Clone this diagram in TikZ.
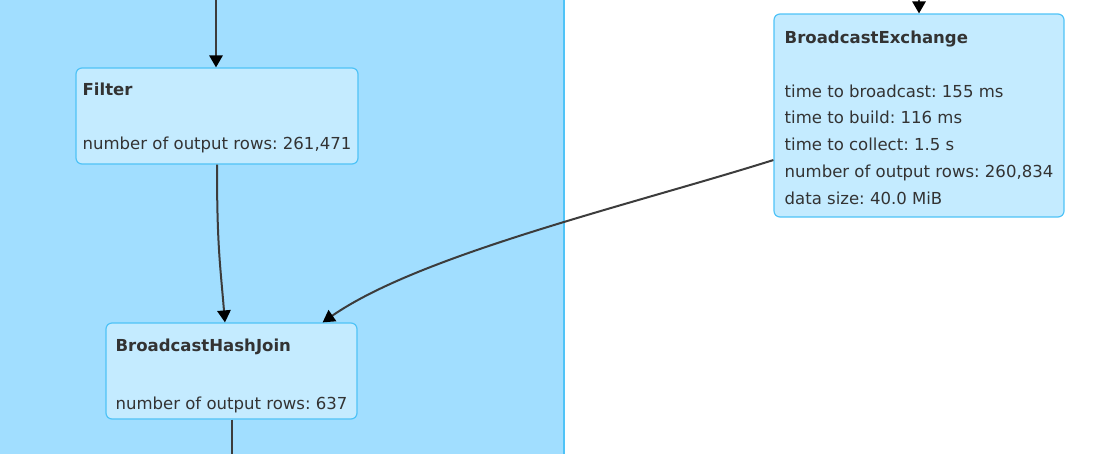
\documentclass[tikz,border=0pt]{standalone}
\usepackage{fontspec}
\setmainfont{DejaVu Sans}
\usetikzlibrary{arrows.meta}
\definecolor{clusterblue}{HTML}{A1DEFF}
\definecolor{boxblue}{HTML}{C4EBFF}
\definecolor{edgeblue}{HTML}{4FC3F7}
\definecolor{inkgray}{HTML}{333333}
\definecolor{linegray}{HTML}{3C3C3C}
\frenchspacing
\tikzset{
	opbox/.style={draw=edgeblue, line width=0.9pt, fill=boxblue, rounded corners=4.5pt, align=left, text=inkgray, font=\fontsize{12.4}{20.1}\selectfont},
	flow/.style={draw=linegray, line width=1.5pt, -{Triangle[length=9pt,width=10pt,color=black]}},
	plain/.style={draw=linegray, line width=1.5pt}
}
\newcommand{\optitle}[2][12.5pt]{\rule{0pt}{#1}\textbf{#2}}
\begin{document}
\begin{tikzpicture}[x=0.75pt, y=-0.75pt]
			\useasboundingbox (0,0) rectangle (1094,454);
			\fill[clusterblue] (0,0) rectangle (564,454);
			\draw[edgeblue, line width=0.9pt] (564,0) -- (564,454);
			\node[opbox, minimum width=211.5pt, minimum height=72pt] (filter) at (217,116) {\optitle{Filter}\\[20.25pt]number of output rows: 261,471};
			\node[opbox, minimum width=188.25pt, minimum height=72pt] (hashjoin) at (231.5,371) {\optitle[16.5pt]{BroadcastHashJoin}\\[23.25pt]number of output rows: 637};
			\node[opbox, minimum width=217.5pt, minimum height=152.25pt] (exchange) at (919,115.5) {\optitle{BroadcastExchange}\\[20.25pt]time to broadcast: 155 ms\\time to build: 116 ms\\time to collect: 1.5 s\\number of output rows: 260,834\\data size: 40.0 MiB};
			\coordinate (infilter) at (216,0);
			\coordinate (inexchange) at (919,0);
			\coordinate (outjoin) at (232,454);
			\draw[flow] (infilter) -- (infilter |- filter.north);
			\draw[flow] (filter.south) .. controls +(0,80) and +(-5,-60) .. ([xshift=-4.9pt]hashjoin.north);
			\draw[plain] (hashjoin.south) -- (hashjoin.south |- outjoin);
			\draw[flow] (inexchange) -- (exchange.north);
			\draw[flow] ([yshift=-33.4pt]exchange.west) .. controls +(-143,45) and +(98,-68) .. ([xshift=-26.25pt]hashjoin.north east);
		\end{tikzpicture}
\end{document}
